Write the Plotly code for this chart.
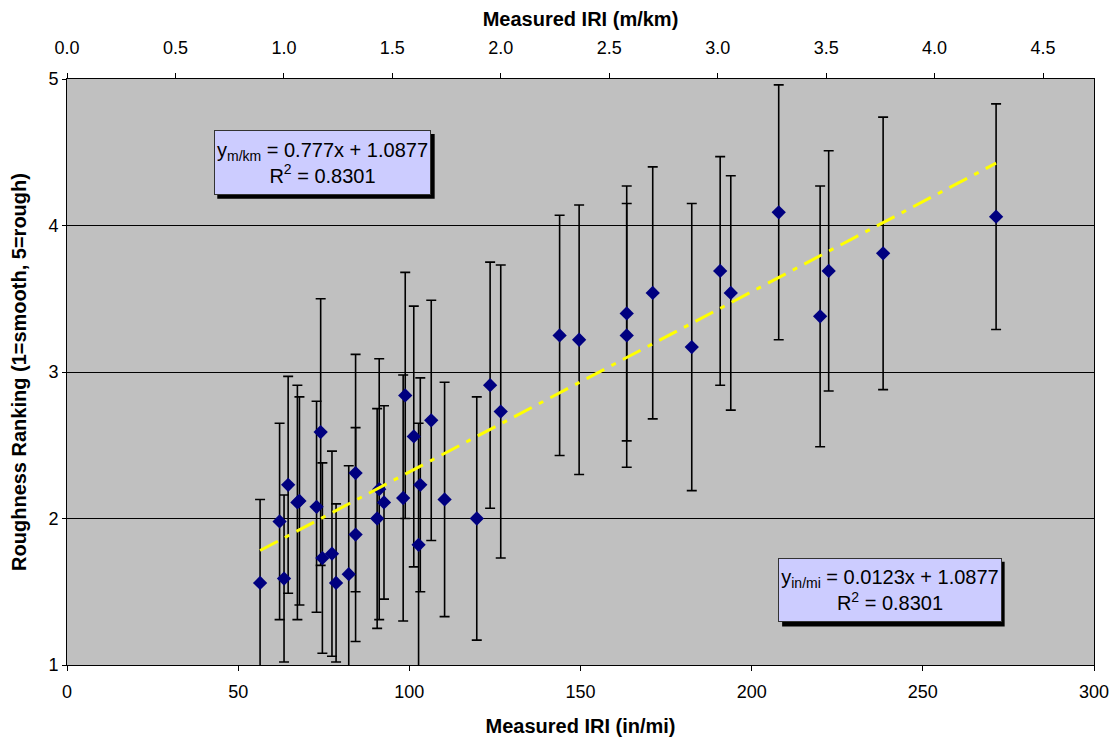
import plotly.graph_objects as go

# ---- data ----
iri_inmi = [56.4, 62.1, 63.4, 64.6, 67.3, 67.9, 72.9, 74.1, 74.6, 77.4,
            78.6, 82.3, 84.3, 84.3, 90.6, 91.2, 92.6, 98.8, 98.2, 101.3,
            103.2, 102.7, 106.4, 110.3, 119.7, 123.6, 126.7, 143.9, 149.6, 163.5,
            163.5, 171.1, 182.5, 190.8, 193.9, 207.9, 220.0, 222.5, 238.4, 271.4]
ranking = [1.56, 1.98, 1.59, 2.23, 2.11, 2.12, 2.08, 2.59, 1.73, 1.76,
           1.56, 1.62, 2.31, 1.89, 2.00, 2.20, 2.11, 2.84, 2.14, 2.56,
           2.23, 1.82, 2.67, 2.13, 2.00, 2.91, 2.73, 3.25, 3.22, 3.40,
           3.25, 3.54, 3.17, 3.69, 3.54, 4.09, 3.38, 3.69, 3.81, 4.06]
ranking_err = [0.57, 0.67, 0.57, 0.74, 0.80, 0.71, 0.72, 0.91, 0.65, 0.70,
               0.54, 0.74, 0.81, 0.73, 0.75, 0.89, 0.66, 0.84, 0.84, 0.89,
               0.73, 0.83, 0.82, 0.80, 0.83, 0.84, 1.00, 0.82, 0.92, 0.87,
               0.90, 0.86, 0.98, 0.78, 0.80, 0.87, 0.89, 0.82, 0.93, 0.77]
trend_slope = 0.0123
trend_intercept = 1.0877
INMI_PER_MKM = 63.36

eq_mkm = "y<sub>m/km</sub> = 0.777x + 1.0877<br>R<sup>2</sup> = 0.8301"
eq_inmi = "y<sub>in/mi</sub> = 0.0123x + 1.0877<br>R<sup>2</sup> = 0.8301"

FONT = "Liberation Sans, Arial, sans-serif"

fig = go.Figure()

fig.add_trace(go.Scatter(
    x=iri_inmi, y=ranking, mode="markers",
    marker=dict(symbol="diamond", size=11, color="#000080"),
    error_y=dict(type="data", array=ranking_err, visible=True,
                 color="black", thickness=1.6, width=5),
    showlegend=False, cliponaxis=True))

x_lo, x_hi = min(iri_inmi), max(iri_inmi)
fig.add_trace(go.Scatter(
    x=[x_lo, x_hi],
    y=[trend_intercept + trend_slope * x_lo, trend_intercept + trend_slope * x_hi],
    mode="lines", line=dict(color="#FFFF00", width=3, dash="20px,8px,5px,8px"),
    showlegend=False, hoverinfo="skip"))

# invisible trace to activate the top (m/km) axis
fig.add_trace(go.Scatter(
    x=[v / INMI_PER_MKM for v in iri_inmi], y=ranking, xaxis="x2",
    mode="markers", marker=dict(opacity=0), showlegend=False, hoverinfo="skip"))

# text boxes with shadows
fig.add_shape(type="rect", xref="x", yref="y", x0=43.9, x1=107.4, y0=4.183, y1=4.624,
              fillcolor="black", line=dict(width=0), layer="above")
fig.add_shape(type="rect", xref="x", yref="y", x0=208.9, x1=273.9, y0=1.262, y1=1.704,
              fillcolor="black", line=dict(width=0), layer="above")
fig.add_annotation(x=74.6, y=4.429, xref="x", yref="y", text=eq_mkm, showarrow=False,
                   xanchor="center", yanchor="middle", align="center",
                   width=213, height=61, bgcolor="#CCCCFF", bordercolor="#333333",
                   borderwidth=1, borderpad=1, font=dict(family=FONT, size=20, color="black"))
fig.add_annotation(x=240.5, y=1.509, xref="x", yref="y", text=eq_inmi, showarrow=False,
                   xanchor="center", yanchor="middle", align="center",
                   width=220, height=60, bgcolor="#CCCCFF", bordercolor="#333333",
                   borderwidth=1, borderpad=1, font=dict(family=FONT, size=20, color="black"))

# the page places the figure 8px from the top-left corner
fig.update_layout(
    width=1109, height=736,
    margin=dict(l=59, r=23, t=71, b=79, autoexpand=False),
    paper_bgcolor="white", plot_bgcolor="#C0C0C0",
    font=dict(family=FONT, size=18, color="black"),
    xaxis=dict(range=[0, 300], dtick=50, tick0=0, showgrid=False, zeroline=False,
               showline=True, linecolor="black", linewidth=1, automargin=False,
               ticks="outside", ticklen=5, tickcolor="black", ticklabelstandoff=5,
               tickfont=dict(size=18),
               title=dict(text="<b>Measured IRI (in/mi)</b>", font=dict(size=20), standoff=18)),
    xaxis2=dict(range=[0, 300 / INMI_PER_MKM], dtick=0.5, tick0=0, tickformat=".1f",
                overlaying="x", side="top", showgrid=False, zeroline=False,
                showline=True, linecolor="black", linewidth=1, automargin=False,
                ticks="outside", ticklen=5, tickcolor="black", ticklabelstandoff=12,
                tickfont=dict(size=18),
                title=dict(text="<b>Measured IRI (m/km)</b>", font=dict(size=20), standoff=6)),
    yaxis=dict(range=[1, 5], dtick=1, tick0=1, showgrid=True, gridcolor="black", gridwidth=1,
               zeroline=False, showline=True, linecolor="black", linewidth=1, mirror=True,
               automargin=False,
               ticks="outside", ticklen=4, tickcolor="black",
               tickfont=dict(size=18),
               title=dict(text="<b>Roughness Ranking (1=smooth, 5=rough)</b>",
                          font=dict(size=20), standoff=16)),
)

fig.write_html("out.html")
